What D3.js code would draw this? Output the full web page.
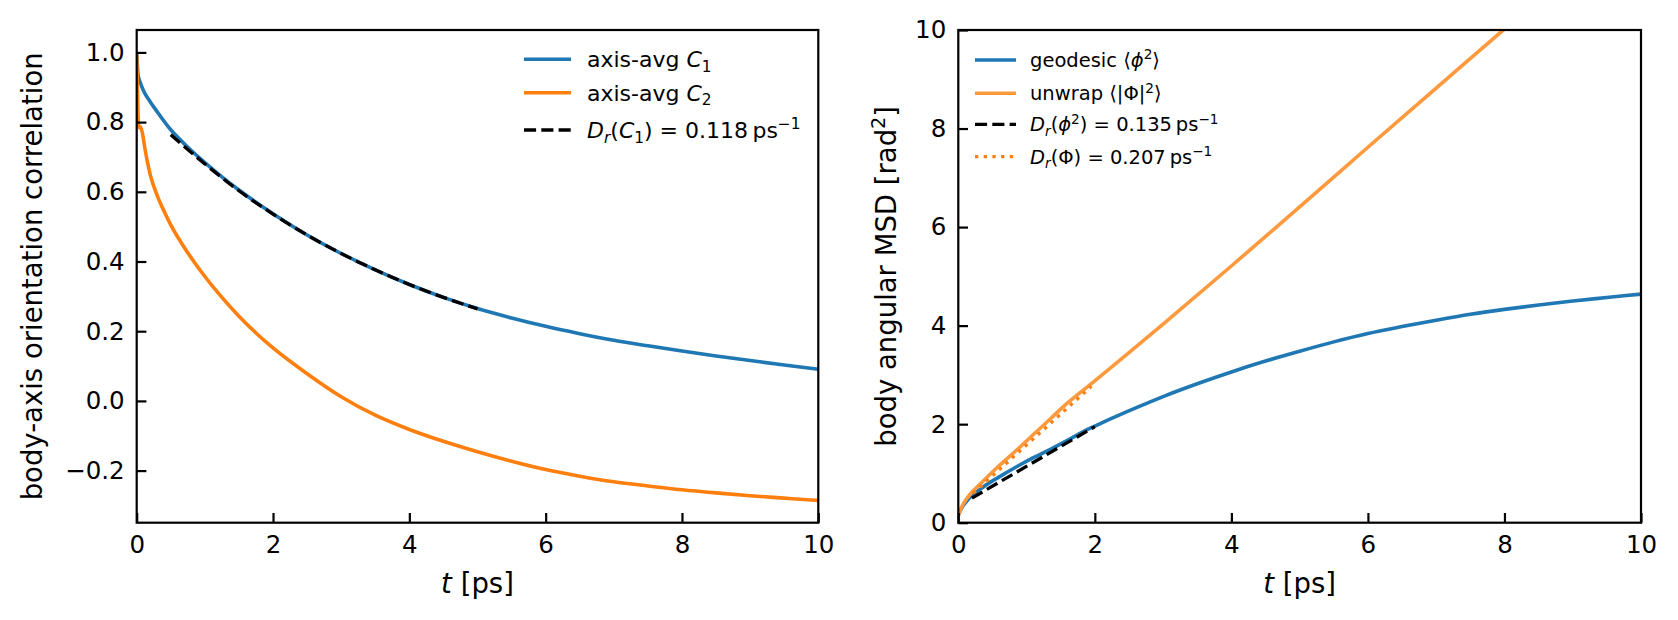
<!DOCTYPE html>
<html>
<head>
<meta charset="utf-8">
<title>Body-axis orientation</title>
<script src="https://d3js.org/d3.v7.min.js"></script>
<style>
  body { margin: 0; background: #fff; }
  text { font-family: "DejaVu Sans", sans-serif; fill: #000; }
</style>
</head>
<body>
<svg width="1678" height="620"></svg>
<script>
// ---- data ----
const xTicks = [0, 2, 4, 6, 8, 10];
const leftYTicks = [-0.2, 0.0, 0.2, 0.4, 0.6, 0.8, 1.0];
const rightYTicks = [0, 2, 4, 6, 8, 10];

// left panel: axis-averaged correlations
const c1T = [0, 0.02, 0.05, 0.1, 0.2, 0.3, 0.5, 0.75, 1, 1.25, 1.5, 1.75, 2, 2.5, 3, 3.5, 4, 4.5, 5, 5.5, 6, 6.5, 7, 7.5, 8, 8.5, 9, 9.5, 10];
const c1V = [1.0, 0.935, 0.915, 0.89, 0.858, 0.83, 0.778, 0.728, 0.684, 0.643, 0.605, 0.57, 0.537, 0.476, 0.423, 0.376, 0.334, 0.297, 0.265, 0.238, 0.214, 0.193, 0.174, 0.158, 0.143, 0.129, 0.116, 0.103, 0.091];
const c2T = [0, 0.01, 0.03, 0.05, 0.08, 0.12, 0.2, 0.3, 0.4, 0.5, 0.75, 1, 1.25, 1.5, 1.75, 2, 2.5, 3, 3.5, 4, 4.5, 5, 5.5, 6, 6.5, 7, 7.5, 8, 8.5, 9, 9.5, 10];
const c2V = [1.0, 0.9, 0.785, 0.787, 0.772, 0.725, 0.648, 0.59, 0.545, 0.505, 0.425, 0.357, 0.297, 0.243, 0.195, 0.152, 0.078, 0.012, -0.041, -0.082, -0.116, -0.146, -0.173, -0.197, -0.216, -0.232, -0.244, -0.255, -0.264, -0.272, -0.279, -0.286];
const fitC1T = [0.5, 1, 1.5, 2, 2.5, 3, 3.5, 4, 4.5, 5];
const fitC1V = [0.764, 0.680, 0.603, 0.536, 0.476, 0.423, 0.376, 0.334, 0.297, 0.264];

// right panel: angular MSD
const geoT = [0, 0.05, 0.15, 0.37, 0.6, 0.86, 1.1, 1.35, 1.6, 1.83, 2, 2.22, 2.6, 3, 3.5, 4, 4.5, 5, 5.5, 6, 6.5, 7, 7.5, 8, 8.5, 9, 9.5, 10];
const geoV = [0.15, 0.3, 0.48, 0.73, 0.93, 1.14, 1.32, 1.49, 1.67, 1.85, 1.96, 2.10, 2.33, 2.56, 2.82, 3.06, 3.28, 3.48, 3.67, 3.84, 3.98, 4.11, 4.23, 4.33, 4.42, 4.50, 4.57, 4.64];
const unwrapT = [0, 0.05, 0.12, 0.37, 0.6, 0.86, 1.1, 1.35, 1.6, 2, 2.5, 3, 4, 5, 6, 7, 8, 9, 10];
const unwrapV = [0.15, 0.32, 0.48, 0.85, 1.16, 1.48, 1.79, 2.11, 2.43, 2.88, 3.45, 4.03, 5.21, 6.41, 7.62, 8.82, 10.02, 11.2, 12.4];
const fitGeoT = [0.2, 2.0];
const fitGeoV = [0.50, 1.95];
const fitPhiT = [0.22, 1.95];
const fitPhiV = [0.60, 2.77];

const blue = "#1f77b4", orange = "#ff7f0e", orangeLight = "#ff993e";

const svg = d3.select("svg");
svg.append("rect").attr("width", 1678).attr("height", 620).attr("fill", "#fff");

const pts = (ts, vs) => ts.map((t, i) => [t, vs[i]]);

// write text with italic / sub / superscript parts
function rich(sel, parts, fs) {
  let shift = 0;
  parts.forEach(p => {
    const target = p.sub ? 0.22 * fs : p.sup ? -0.4 * fs : 0;
    const ts = sel.append("tspan").text(p.t).attr("dy", target - shift);
    if (p.sub || p.sup) ts.attr("font-size", fs * 0.7);
    if (p.i) ts.attr("font-style", "italic");
    shift = target;
  });
}

function panel(opt) {
  const g = svg.append("g");
  const x = d3.scaleLinear().domain([0, 10]).range([opt.left, opt.right]);
  const y = d3.scaleLinear().domain(opt.yDomain).range([opt.bottom, opt.top]);

  const clipId = "clip" + opt.id;
  svg.append("clipPath").attr("id", clipId)
    .append("rect").attr("x", opt.left).attr("y", opt.top)
    .attr("width", opt.right - opt.left).attr("height", opt.bottom - opt.top);

  const line = d3.line().x(d => x(d[0])).y(d => y(d[1])).curve(d3.curveMonotoneX);
  const plot = g.append("g").attr("clip-path", `url(#${clipId})`);
  opt.series.forEach(s => {
    plot.append("path").datum(s.data)
      .attr("d", line)
      .attr("fill", "none")
      .attr("stroke", s.color)
      .attr("stroke-width", s.width)
      .attr("stroke-dasharray", s.dash || null)
      .attr("stroke-linejoin", "round");
  });

  // axes, ticks pointing inward
  const xa = g.append("g").attr("transform", `translate(0,${opt.bottom})`)
    .call(d3.axisBottom(x).tickValues(xTicks).tickFormat(d3.format("d"))
      .tickSize(-9.7).tickPadding(13));
  const ya = g.append("g").attr("transform", `translate(${opt.left},0)`)
    .call(d3.axisLeft(y).tickValues(opt.yTicks).tickFormat(opt.yFormat)
      .tickSize(-9.7).tickPadding(12));
  [xa, ya].forEach(a => {
    a.select(".domain").remove();
    a.selectAll(".tick line").attr("stroke", "#000").attr("stroke-width", 2.2);
    a.selectAll(".tick text").attr("font-size", 24.5).attr("font-family", "DejaVu Sans");
  });

  g.append("rect")
    .attr("x", opt.left).attr("y", opt.top)
    .attr("width", opt.right - opt.left).attr("height", opt.bottom - opt.top)
    .attr("fill", "none").attr("stroke", "#000").attr("stroke-width", 2.2);

  // axis labels
  const xl = g.append("text").attr("x", (opt.left + opt.right) / 2).attr("y", 593)
    .attr("text-anchor", "middle").attr("font-size", 27.5);
  rich(xl, [{t: "t", i: true}, {t: " [ps]"}], 27.5);
  const yl = g.append("text")
    .attr("transform", `translate(${opt.yLabelX},${(opt.top + opt.bottom) / 2}) rotate(-90)`)
    .attr("text-anchor", "middle").attr("font-size", 27.5);
  rich(yl, opt.yLabel, 27.5);

  // legend
  const lg = g.append("g");
  opt.legend.forEach((L, i) => {
    const ly = opt.legendRows[i];
    lg.append("line")
      .attr("x1", opt.legendX).attr("x2", opt.legendX + opt.handleLen)
      .attr("y1", ly).attr("y2", ly)
      .attr("stroke", L.color).attr("stroke-width", L.width)
      .attr("stroke-dasharray", L.dash || null);
    const t = lg.append("text")
      .attr("x", opt.legendTextX).attr("y", ly + 0.36 * opt.legendFs)
      .attr("font-size", opt.legendFs);
    rich(t, L.label, opt.legendFs);
  });
}

panel({
  id: "L", left: 136.7, right: 818.3, top: 30, bottom: 522.7,
  yDomain: [-0.3495, 1.0643], yTicks: leftYTicks, yFormat: d3.format(".1f"),
  yLabelX: 41.7,
  yLabel: [{t: "body-axis orientation correlation"}],
  series: [
    {data: pts(c1T, c1V), color: blue, width: 3.6},
    {data: pts(c2T, c2V), color: orange, width: 3.6},
    {data: pts(fitC1T, fitC1V), color: "#000", width: 3.3, dash: "12.1,5.2"}
  ],
  legendX: 524, handleLen: 47, legendTextX: 587, legendFs: 22,
  legendRows: [59.3, 92.7, 130],
  legend: [
    {color: blue, width: 3.6, label: [{t: "axis-avg "}, {t: "C", i: true}, {t: "1", sub: true}]},
    {color: orange, width: 3.6, label: [{t: "axis-avg "}, {t: "C", i: true}, {t: "2", sub: true}]},
    {color: "#000", width: 3.3, dash: "12.1,5.2",
     label: [{t: "D", i: true}, {t: "r", i: true, sub: true}, {t: "("}, {t: "C", i: true}, {t: "1", sub: true},
             {t: ") = 0.118\u2009ps"}, {t: "\u22121", sup: true}]}
  ]
});

panel({
  id: "R", left: 958.3, right: 1641, top: 30, bottom: 522.7,
  yDomain: [0, 10], yTicks: rightYTicks, yFormat: d3.format("d"),
  yLabelX: 896,
  yLabel: [{t: "body angular MSD [rad"}, {t: "2", sup: true}, {t: "]"}],
  series: [
    {data: pts(geoT, geoV), color: blue, width: 3.6},
    {data: pts(unwrapT, unwrapV), color: orangeLight, width: 3.6},
    {data: pts(fitGeoT, fitGeoV), color: "#000", width: 3.3, dash: "12.1,5.2"},
    {data: pts(fitPhiT, fitPhiV), color: orange, width: 3.3, dash: "3.3,5.4"}
  ],
  legendX: 975, handleLen: 41, legendTextX: 1030, legendFs: 19.5,
  legendRows: [60, 93.3, 124.4, 156.7],
  legend: [
    {color: blue, width: 3.6, label: [{t: "geodesic \u27e8"}, {t: "\u03d5", i: true}, {t: "2", sup: true}, {t: "\u27e9"}]},
    {color: orangeLight, width: 3.6, label: [{t: "unwrap \u27e8|\u03a6|"}, {t: "2", sup: true}, {t: "\u27e9"}]},
    {color: "#000", width: 3.3, dash: "12.1,5.2",
     label: [{t: "D", i: true}, {t: "r", i: true, sub: true}, {t: "("}, {t: "\u03d5", i: true}, {t: "2", sup: true},
             {t: ") = 0.135\u2009ps"}, {t: "\u22121", sup: true}]},
    {color: orange, width: 3.3, dash: "3.3,5.4",
     label: [{t: "D", i: true}, {t: "r", i: true, sub: true}, {t: "(\u03a6) = 0.207\u2009ps"}, {t: "\u22121", sup: true}]}
  ]
});
</script>
</body>
</html>
